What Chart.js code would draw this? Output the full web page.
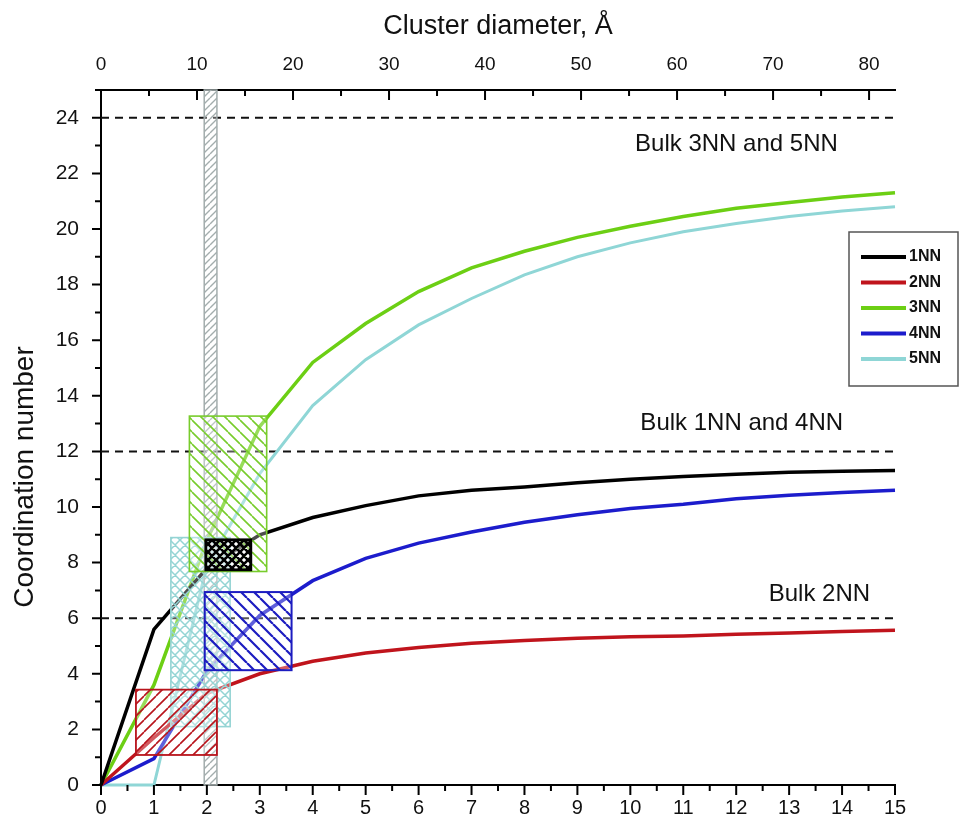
<!DOCTYPE html>
<html>
<head>
<meta charset="utf-8">
<script src="https://cdn.jsdelivr.net/npm/chart.js@4.4.1/dist/chart.umd.min.js"></script>
<style>
  html, body { margin: 0; padding: 0; background: #fff; }
  #wrap { width: 963px; height: 824px; }
</style>
</head>
<body>
<div id="wrap"><canvas id="coordChart" width="963" height="824"></canvas></div>
<script>
// bottom axis positions (shell index)
const shells = [0, 1, 2, 3, 4, 5, 6, 7, 8, 9, 10, 11, 12, 13, 14, 15];
// coordination numbers per neighbour shell
const cn1 = [0, 5.6, 7.8, 9.0, 9.62, 10.05, 10.4, 10.6, 10.72, 10.87, 11.0, 11.1, 11.18, 11.25, 11.29, 11.31];
const cn2 = [0, 1.7, 3.3, 4.0, 4.45, 4.75, 4.95, 5.1, 5.2, 5.28, 5.33, 5.36, 5.42, 5.47, 5.52, 5.57];
const cn3 = [0, 3.6, 8.8, 12.9, 15.2, 16.6, 17.75, 18.6, 19.2, 19.7, 20.1, 20.45, 20.75, 20.95, 21.15, 21.3];
const cn4 = [0, 0.95, 4.1, 6.1, 7.35, 8.15, 8.7, 9.1, 9.45, 9.72, 9.95, 10.1, 10.3, 10.42, 10.52, 10.6];
const cn5 = [0, 0, 7.9, 11.2, 13.65, 15.3, 16.55, 17.5, 18.35, 19.0, 19.5, 19.9, 20.2, 20.45, 20.65, 20.8];
const seriesNames = ['1NN', '2NN', '3NN', '4NN', '5NN'];

// top axis tick labels (cluster diameter, A)
const diameterTicks = [0, 10, 20, 30, 40, 50, 60, 70, 80];

// bulk values (dashed lines) and their captions
const bulkLevels = [24, 12, 6];
const bulkLabels = ['Bulk 3NN and 5NN', 'Bulk 1NN and 4NN', 'Bulk 2NN'];

// experimental ranges [xMin, xMax, yMin, yMax]
const rangeGray = [1.95, 2.19, 0, 25];
const rangeCN5 = [1.32, 2.44, 2.1, 8.9];
const rangeCN3 = [1.67, 3.13, 7.68, 13.27];
const rangeCN2 = [0.66, 2.19, 1.08, 3.43];
const rangeCN4 = [1.96, 3.6, 4.13, 6.94];
const rangeCN1 = [1.98, 2.83, 7.74, 8.82];

const FONT = "'Liberation Sans', Arial, sans-serif";
const colors = ['#000000', '#c0141c', '#6ccf14', '#1c1ccc', '#8fd6d6'];

function pts(ys) {
    return shells.map((x, i) => ({ x: x, y: ys[i] }));
}

function hatch(color, size, lw, kind) {
    const c = document.createElement('canvas');
    c.width = size; c.height = size;
    const g = c.getContext('2d');
    g.strokeStyle = color;
    g.lineWidth = lw;
    g.beginPath();
    for (let k = -1; k <= 1; k++) {
        if (kind === '/' || kind === 'x') {
            g.moveTo(k * size, size); g.lineTo(k * size + size, 0);
        }
        if (kind === '\\' || kind === 'x') {
            g.moveTo(k * size, 0); g.lineTo(k * size + size, size);
        }
    }
    g.stroke();
    return g.createPattern(c, 'repeat');
}

const curveSets = [cn1, cn2, cn3, cn4, cn5].map((ys, i) => ({
    label: seriesNames[i],
    data: pts(ys),
    borderColor: colors[i],
    backgroundColor: colors[i],
    borderWidth: i === 4 ? 3 : 3.5,
    showLine: true,
    pointRadius: 0,
    tension: 0,
    clip: 4
}));

const bulkSets = bulkLevels.map(v => ({
    label: 'bulk',
    data: [{ x: 0, y: v }, { x: 15, y: v }],
    borderColor: '#111',
    borderWidth: 2,
    borderDash: [8, 6],
    showLine: true,
    pointRadius: 0
}));

const extras = {
    id: 'extras',
    afterDatasetsDraw(chart) {
        const ctx = chart.ctx;
        const xs = chart.scales.x, ys = chart.scales.y;

        // hatched range boxes
        const boxes = [
            [rangeGray, '#a3adad', hatch('#a3adad', 7, 1.4, '/'), 1.5],
            [rangeCN5, '#94d4d4', hatch('#94d4d4', 10, 1.5, 'x'), 1.6],
            [rangeCN3, '#78cc2c', hatch('#78cc2c', 12, 1.6, '\\'), 1.6],
            [rangeCN2, '#b8141c', hatch('#b8141c', 12, 1.6, '/'), 1.8],
            [rangeCN4, '#1c1cc0', hatch('#1c1cc0', 13, 2.2, '\\'), 2],
            [rangeCN1, '#000000', hatch('#000000', 8, 2.6, 'x'), 2.8]
        ];
        boxes.forEach(([r, stroke, pat, lw]) => {
            const x0 = xs.getPixelForValue(r[0]), x1 = xs.getPixelForValue(r[1]);
            const y0 = ys.getPixelForValue(r[3]), y1 = ys.getPixelForValue(r[2]);
            ctx.save();
            ctx.fillStyle = 'rgba(255,255,255,0.3)';
            ctx.fillRect(x0, y0, x1 - x0, y1 - y0);
            ctx.fillStyle = pat;
            ctx.fillRect(x0, y0, x1 - x0, y1 - y0);
            ctx.strokeStyle = stroke;
            ctx.lineWidth = lw;
            ctx.strokeRect(x0, y0, x1 - x0, y1 - y0);
            ctx.restore();
        });

        // bulk captions
        const place = [[13.92, 23.05], [14.02, 13.0], [14.53, 6.87]];
        ctx.save();
        ctx.font = '24px ' + FONT;
        ctx.fillStyle = '#111';
        ctx.textAlign = 'right';
        ctx.textBaseline = 'middle';
        bulkLabels.forEach((t, i) => {
            ctx.fillText(t, xs.getPixelForValue(place[i][0]), ys.getPixelForValue(place[i][1]));
        });
        ctx.restore();
    },
    afterDraw(chart) {
        const ctx = chart.ctx;
        const a = chart.chartArea;
        const xs = chart.scales.x, x2 = chart.scales.x2, ys = chart.scales.y;
        ctx.save();
        ctx.strokeStyle = '#000';
        ctx.lineWidth = 2;
        ctx.beginPath();
        // bottom ticks (outward)
        for (let v = 0; v <= 15.001; v += 0.5) {
            const p = xs.getPixelForValue(v);
            const len = Number.isInteger(v) ? 10 : 6;
            ctx.moveTo(p, a.bottom); ctx.lineTo(p, a.bottom + len);
        }
        // left ticks (outward)
        for (let v = 0; v <= 25; v += 1) {
            const p = ys.getPixelForValue(v);
            const len = v % 2 === 0 ? 9 : 6;
            ctx.moveTo(a.left, p); ctx.lineTo(a.left - len, p);
        }
        // top ticks (inward)
        for (let v = 0; v <= x2.max; v += 5) {
            const p = x2.getPixelForValue(v);
            const len = v % 10 === 0 ? 10 : 6;
            ctx.moveTo(p, a.top); ctx.lineTo(p, a.top + len);
        }
        ctx.stroke();

        // y axis title
        ctx.save();
        ctx.translate(25, 477);
        ctx.rotate(-Math.PI / 2);
        ctx.font = '28px ' + FONT;
        ctx.fillStyle = '#111';
        ctx.textAlign = 'center';
        ctx.textBaseline = 'middle';
        ctx.fillText('Coordination number', 0, 0);
        ctx.restore();

        // legend box
        const lx = 849, ly = 232, lw = 109, lh = 154;
        ctx.strokeStyle = '#555';
        ctx.lineWidth = 1.5;
        ctx.strokeRect(lx, ly, lw, lh);
        ctx.font = 'bold 16px ' + FONT;
        ctx.textBaseline = 'middle';
        ctx.textAlign = 'left';
        chart.data.datasets.filter(d => d.label !== 'bulk').forEach((d, i) => {
            const yy = ly + 25 + i * 25.5;
            ctx.strokeStyle = d.borderColor;
            ctx.lineWidth = 4;
            ctx.beginPath();
            ctx.moveTo(861, yy); ctx.lineTo(906, yy);
            ctx.stroke();
            ctx.fillStyle = '#111';
            ctx.fillText(d.label, 909, yy);
        });
        ctx.restore();
    }
};

new Chart(document.getElementById('coordChart'), {
    type: 'scatter',
    data: { datasets: curveSets.concat(bulkSets) },
    options: {
        responsive: false,
        devicePixelRatio: 1,
        animation: false,
        layout: { padding: { left: 0, right: 68, top: 0, bottom: 0 } },
        plugins: { legend: { display: false }, tooltip: { enabled: false } },
        scales: {
            x: {
                type: 'linear', position: 'bottom', min: 0, max: 15,
                afterFit: s => { s.height = 39; },
                grid: { display: false, drawTicks: false },
                border: { display: true, color: '#000', width: 2 },
                ticks: { stepSize: 1, padding: 11, color: '#111', maxRotation: 0, autoSkip: false,
                         font: { size: 20, family: FONT } }
            },
            x2: {
                type: 'linear', position: 'top', min: 0, max: 82.7,
                afterFit: s => { s.height = 90; },
                afterBuildTicks: s => { s.ticks = diameterTicks.map(v => ({ value: v })); },
                grid: { display: false, drawTicks: false },
                border: { display: true, color: '#000', width: 2 },
                ticks: { padding: 14, color: '#111', maxRotation: 0, autoSkip: false,
                         font: { size: 19, family: FONT } },
                title: { display: true, text: 'Cluster diameter, Å', color: '#111',
                         font: { size: 27, family: FONT }, padding: { top: 10, bottom: 0 } }
            },
            y: {
                min: 0, max: 25,
                afterFit: s => { s.width = 101; },
                grid: { display: false, drawTicks: false },
                border: { display: true, color: '#000', width: 2 },
                ticks: { stepSize: 2, padding: 22, color: '#111', autoSkip: false,
                         font: { size: 21, family: FONT },
                         callback: v => (v % 2 === 0 ? v : '') },
                title: { display: false }
            }
        }
    },
    plugins: [extras]
});
</script>
</body>
</html>
